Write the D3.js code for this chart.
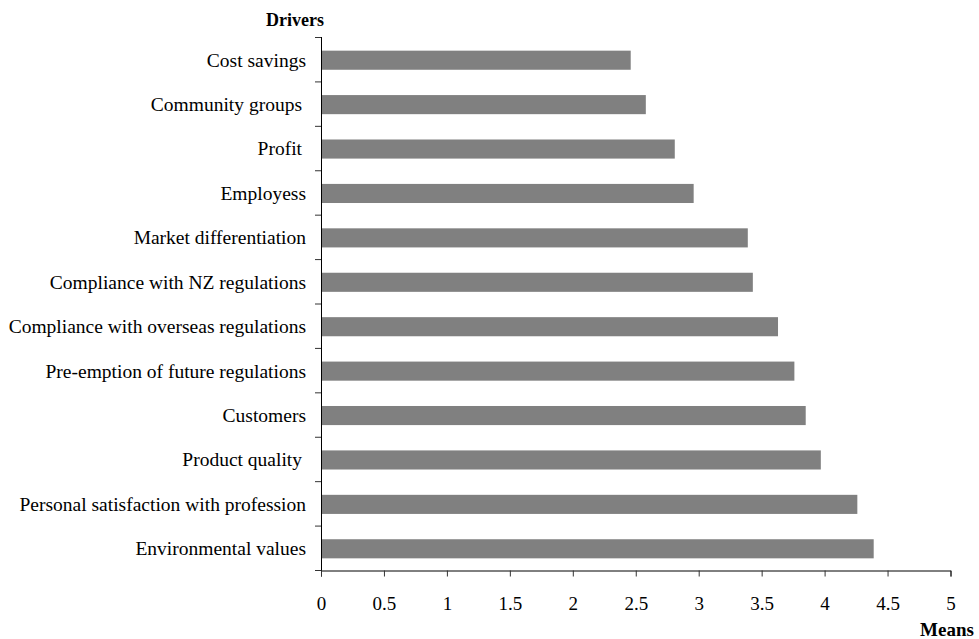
<!DOCTYPE html>
<html>
<head>
<meta charset="utf-8">
<script src="https://cdn.jsdelivr.net/npm/d3@7"></script>
<style>
  html, body { margin: 0; padding: 0; background: #fff; }
  svg { display: block; }
  text { font-family: "Liberation Serif", "Times New Roman", serif; fill: #000; }
</style>
</head>
<body>
<svg id="chart" width="979" height="639"></svg>
<script>
const categories = [
  "Cost savings",
  "Community groups ",
  "Profit ",
  "Employess",
  "Market differentiation",
  "Compliance with NZ regulations",
  "Compliance with overseas regulations",
  "Pre-emption of future regulations",
  "Customers",
  "Product quality ",
  "Personal satisfaction with profession",
  "Environmental values"
];
const means = [2.46, 2.58, 2.81, 2.96, 3.39, 3.43, 3.63, 3.76, 3.85, 3.97, 4.26, 4.39];
const xTicks = [0, 0.5, 1, 1.5, 2, 2.5, 3, 3.5, 4, 4.5, 5];
const xTickLabels = ["0", "0.5", "1", "1.5", "2", "2.5", "3", "3.5", "4", "4.5", "5"];
const yTitle = "Drivers";
const xTitle = "Means";

(function () {
const svg = d3.select("#chart");
const pl = 321, pr = 950.5, pt = 37, pb = 570;

const x = d3.scaleLinear().domain([0, 5]).range([pl, pr]);
const y = d3.scaleBand().domain(categories).range([pt, pb]).paddingInner(0.57).paddingOuter(0.285);

// bars
svg.append("g").selectAll("rect")
  .data(categories)
  .join("rect")
  .attr("x", x(0))
  .attr("y", d => y(d) + 1)
  .attr("width", (d, i) => x(means[i]) - x(0))
  .attr("height", y.bandwidth())
  .attr("fill", "#808080");

// y axis line
svg.append("line")
  .attr("x1", pl + 0.5).attr("x2", pl + 0.5)
  .attr("y1", pt).attr("y2", pb + 6)
  .attr("stroke", "#000").attr("stroke-width", 1);

// y axis ticks at band boundaries
const step = (pb - pt) / categories.length;
svg.append("g").selectAll("line")
  .data(d3.range(categories.length + 1))
  .join("line")
  .attr("x1", pl - 6).attr("x2", pl)
  .attr("y1", i => pt + i * step + 0.5)
  .attr("y2", i => pt + i * step + 0.5)
  .attr("stroke", "#333").attr("stroke-width", 1);

// y labels (trailing spaces in the source labels shift them slightly left)
svg.append("g").selectAll("text")
  .data(categories)
  .join("text")
  .attr("x", d => /\s$/.test(d) ? 302 : 306)
  .attr("y", d => y(d) + y.bandwidth() / 2 + 1)
  .attr("dy", "0.33em")
  .attr("text-anchor", "end")
  .attr("font-size", 19.5)
  .text(d => d.replace(/\s+$/, ""));

// x axis
const xAxis = d3.axisBottom(x)
  .tickValues(xTicks)
  .tickFormat((d, i) => xTickLabels[i])
  .tickSizeOuter(0)
  .tickSize(6)
  .tickPadding(20);
const gx = svg.append("g")
  .attr("transform", `translate(0,${pb + 0.5})`)
  .call(xAxis);
gx.select(".domain").attr("stroke", "#000");
gx.selectAll(".tick line").attr("stroke", "#333");
gx.selectAll(".tick text")
  .attr("font-size", 19)
  .attr("font-family", "Liberation Serif, Times New Roman, serif")
  .attr("fill", "#000");

// titles
svg.append("text")
  .attr("x", 295).attr("y", 26)
  .attr("text-anchor", "middle")
  .attr("font-size", 18)
  .attr("font-weight", "bold")
  .text(yTitle);

svg.append("text")
  .attr("x", 947).attr("y", 636)
  .attr("text-anchor", "middle")
  .attr("font-size", 19)
  .attr("font-weight", "bold")
  .text(xTitle);
})();
</script>
</body>
</html>
